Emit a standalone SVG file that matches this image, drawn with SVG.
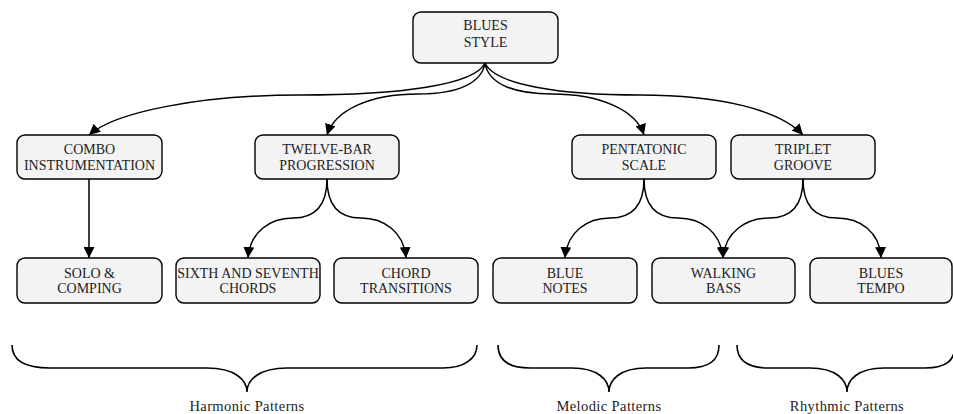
<svg xmlns="http://www.w3.org/2000/svg" width="953" height="414" viewBox="0 0 953 414">
<defs>
<style>
.box{fill:#f3f3f3;stroke:#000;stroke-width:1.4}
.t{font-family:"Liberation Serif","Times New Roman",serif;font-size:14px;fill:#222;text-anchor:middle}
.lbl{font-family:"Liberation Serif","Times New Roman",serif;font-size:14.5px;fill:#222;text-anchor:middle;letter-spacing:0.4px}
.e{fill:none;stroke:#000;stroke-width:1.5}
.br{fill:none;stroke:#000;stroke-width:1.6}
</style>
<marker id="ah" viewBox="0 0 10 10" refX="10" refY="5" markerWidth="11" markerHeight="11" markerUnits="userSpaceOnUse" orient="auto">
<path d="M0,0 L10,5 L0,10 z" fill="#000"/>
</marker>
</defs>
<rect width="953" height="414" fill="#fff"/>
<g id="edges">
<path class="e" marker-end="url(#ah)" d="M485,63 C475,85 400,95 300,95 C200,95 115,112 89,135"/>
<path class="e" marker-end="url(#ah)" d="M485,63 C482,82 460,94 418,94 C370,94 335,110 327,135"/>
<path class="e" marker-end="url(#ah)" d="M485,63 C488,82 510,94 552,94 C600,94 636,110 644,135"/>
<path class="e" marker-end="url(#ah)" d="M485,63 C495,85 560,95 640,95 C720,95 780,110 803,135"/>
<path class="e" marker-end="url(#ah)" d="M89,179 L89,258"/>
<path class="e" marker-end="url(#ah)" d="M327,179 C327,205 315,218 293,218 C270,218 250,232 248,258"/>
<path class="e" marker-end="url(#ah)" d="M327,179 C327,205 339,218 361,218 C384,218 404,232 406,258"/>
<path class="e" marker-end="url(#ah)" d="M644,179 C644,205 632,218 610,218 C587,218 567,232 565,258"/>
<path class="e" marker-end="url(#ah)" d="M644,179 C644,205 656,218 678,218 C701,218 721,232 723,258"/>
<path class="e" marker-end="url(#ah)" d="M803,179 C803,205 791,218 769,218 C746,218 725,232 723,258"/>
<path class="e" marker-end="url(#ah)" d="M803,179 C803,205 815,218 837,218 C860,218 880,232 881,258"/>
</g>
<g id="blues-style"><rect class="box" x="413" y="12" width="145" height="51" rx="8"/><text class="t" x="485.5" y="30">BLUES</text><text class="t" x="485.5" y="46.5">STYLE</text></g>
<g id="combo"><rect class="box" x="17" y="135" width="145" height="44" rx="8"/><text class="t" x="89.5" y="154">COMBO</text><text class="t" x="89.5" y="169.5">INSTRUMENTATION</text></g>
<g id="twelve-bar"><rect class="box" x="255" y="135" width="144" height="44" rx="8"/><text class="t" x="327" y="154">TWELVE-BAR</text><text class="t" x="327" y="169.5">PROGRESSION</text></g>
<g id="pentatonic"><rect class="box" x="572" y="135" width="144" height="44" rx="8"/><text class="t" x="644" y="154">PENTATONIC</text><text class="t" x="644" y="169.5">SCALE</text></g>
<g id="triplet"><rect class="box" x="731" y="135" width="144" height="44" rx="8"/><text class="t" x="803" y="154">TRIPLET</text><text class="t" x="803" y="169.5">GROOVE</text></g>
<g id="solo"><rect class="box" x="17" y="258" width="145" height="45" rx="8"/><text class="t" x="89.5" y="278">SOLO &amp;</text><text class="t" x="89.5" y="293">COMPING</text></g>
<g id="sixth"><rect class="box" x="176" y="258" width="144" height="45" rx="8"/><text class="t" x="248" y="278">SIXTH AND SEVENTH</text><text class="t" x="248" y="293">CHORDS</text></g>
<g id="chord"><rect class="box" x="334" y="258" width="144" height="45" rx="8"/><text class="t" x="406" y="278">CHORD</text><text class="t" x="406" y="293">TRANSITIONS</text></g>
<g id="blue-notes"><rect class="box" x="493" y="258" width="144" height="45" rx="8"/><text class="t" x="565" y="278">BLUE</text><text class="t" x="565" y="293">NOTES</text></g>
<g id="walking"><rect class="box" x="652" y="258" width="143" height="45" rx="8"/><text class="t" x="723.5" y="278">WALKING</text><text class="t" x="723.5" y="293">BASS</text></g>
<g id="blues-tempo"><rect class="box" x="810" y="258" width="142" height="45" rx="8"/><text class="t" x="881" y="278">BLUES</text><text class="t" x="881" y="293">TEMPO</text></g>
<g id="brackets">
<path class="br" d="M12,345 C12,360 25,368 50,368 L207,368 C235,368 247,380 247,392 C247,380 259,368 287,368 L443,368 C465,368 477,358 477,345"/>
<path class="br" d="M498,345 C498,360 508,368 530,368 L572,368 C598,368 609,380 609,392 C609,380 620,368 646,368 L688,368 C710,368 719,360 719,345"/>
<path class="br" d="M737,345 C737,360 747,368 769,368 L810,368 C836,368 847,380 847,392 C847,380 858,368 884,368 L925,368 C947,368 955,360 955,345"/>
</g>
<text class="lbl" x="247" y="411">Harmonic Patterns</text>
<text class="lbl" x="609" y="411">Melodic Patterns</text>
<text class="lbl" x="847" y="411">Rhythmic Patterns</text>
</svg>
